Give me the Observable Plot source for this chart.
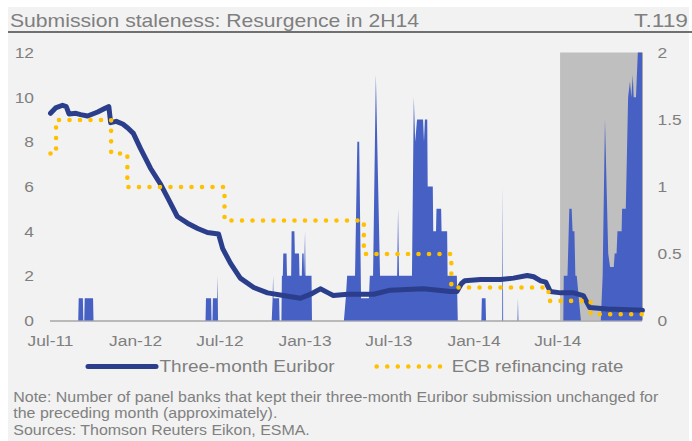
<!DOCTYPE html>
<html><head><meta charset="utf-8">
<script src="https://cdn.jsdelivr.net/npm/d3@7"></script>
<script src="https://cdn.jsdelivr.net/npm/@observablehq/plot@0.6"></script>
<style>
body{margin:0;background:#fff;}
#wrap{position:relative;width:692px;height:441px;overflow:hidden;font-family:"Liberation Sans",Arial,sans-serif;}
#overlay{position:absolute;left:0;top:0;}
#chart{position:absolute;left:0;top:40px;}
</style></head><body>
<div id="wrap"><svg id="overlay" width="692" height="441"></svg><div id="chart"></div></div>
<script>
// ---- texts ----
const titleText = "Submission staleness: Resurgence in 2H14";
const tableId = "T.119";
const legendLabels = ["Three-month Euribor", "ECB refinancing rate"];
const noteLines = [
  "Note: Number of panel banks that kept their three-month Euribor submission unchanged for",
  "the preceding month (approximately).",
  "Sources: Thomson Reuters Eikon, ESMA."
];
// ---- axes ----
const xTickLabels = ["Jul-11","Jan-12","Jul-12","Jan-13","Jul-13","Jan-14","Jul-14"];
const leftTicks = [0, 2, 4, 6, 8, 10, 12];
const rightTicks = [0, 0.5, 1, 1.5, 2];
const xStart = "2011-07-01", xEnd = "2014-12-31";
const shadeStart = "2014-07-07";
const rightToLeft = 6; // 2% on the right axis = 12 banks on the left axis

// ---- number of banks with stale submissions (left axis) ----
const staleDates = [
 "2011-07-01","2011-08-31","2011-09-01","2011-09-10","2011-09-11","2011-09-13","2011-09-14","2011-10-02","2011-10-03",
 "2012-06-01","2012-06-02","2012-06-13","2012-06-14","2012-06-16","2012-06-17","2012-06-26","2012-06-27","2012-06-28",
 "2012-10-22","2012-10-24","2012-10-25","2012-10-26","2012-11-07","2012-11-08","2012-11-12","2012-11-13","2012-11-15",
 "2012-11-16","2012-11-23","2012-11-24","2012-12-03","2012-12-04","2012-12-10","2012-12-11","2012-12-20","2012-12-21",
 "2012-12-26","2012-12-27","2012-12-30","2012-12-31","2013-01-02","2013-01-03","2013-01-16","2013-01-17",
 "2013-03-27","2013-03-31","2013-04-03","2013-04-20","2013-04-25","2013-04-29","2013-05-03","2013-05-20","2013-05-22",
 "2013-05-29","2013-06-04","2013-06-13","2013-07-20","2013-07-22","2013-07-24","2013-08-21","2013-08-25","2013-08-28",
 "2013-09-01","2013-09-14","2013-09-16","2013-09-18","2013-09-23","2013-09-24","2013-10-05","2013-10-06","2013-10-12",
 "2013-10-13","2013-10-23","2013-10-24","2013-11-05","2013-11-06","2013-11-26","2013-11-28",
 "2014-01-18","2014-01-19","2014-01-27","2014-01-28","2014-03-04","2014-03-05","2014-03-06","2014-04-06","2014-04-07","2014-04-08",
 "2014-07-14","2014-07-15","2014-07-23","2014-07-27","2014-08-01","2014-08-03","2014-08-07","2014-08-09","2014-08-12","2014-08-21",
 "2014-10-03","2014-10-07","2014-10-12","2014-10-19","2014-10-23","2014-10-31","2014-11-02","2014-11-06","2014-11-08",
 "2014-11-17","2014-11-18","2014-11-26","2014-12-01","2014-12-05","2014-12-08","2014-12-11","2014-12-13","2014-12-18",
 "2014-12-22","2014-12-31"
];
const staleCounts = [
 0,0,1,1,0,0,1,1,0,
 0,1,1,0,0,1,1,2,0,
 0,1,2,1,1,0,0,2,2,
 3,3,2,2,4,4,3,3,2,
 2,3,3,2,4,2,2,0,
 0,1,2,2,8,8,1,1,2,
 2,11,2,2,5,2,2,10,8,
 9,9,8,9,9,6,6,4,4,
 5,5,4,4,2,2,0,
 0,1,1,0,0,6,0,0,1,0,
 0,2,2,5,5,4,4,2,2,0,
 0,2,9,3,2.4,2.4,3,3,4,
 4,5,5,10,10.7,10,11,10,10,
 12,12
];

// ---- three-month Euribor, % (right axis) ----
const euriborDates = [
 "2011-07-01","2011-07-12","2011-07-27","2011-08-04","2011-08-10","2011-08-25","2011-09-04","2011-09-19","2011-10-11",
 "2011-10-28","2011-11-04","2011-11-08","2011-11-20","2011-12-04","2011-12-15","2011-12-27","2012-01-11","2012-02-02",
 "2012-02-24","2012-03-10","2012-03-31","2012-04-22","2012-05-14","2012-06-04","2012-06-28","2012-07-07","2012-07-24",
 "2012-08-14","2012-09-12","2012-10-12","2012-11-15","2012-12-22","2013-01-13","2013-02-03","2013-02-20","2013-03-03",
 "2013-04-03","2013-05-29","2013-07-04","2013-09-14","2013-11-11","2013-11-25","2013-12-05","2013-12-12","2014-01-15",
 "2014-02-27","2014-03-27","2014-04-26","2014-05-10","2014-05-25","2014-06-05","2014-06-15","2014-07-07","2014-08-04",
 "2014-08-25","2014-09-08","2014-10-16","2014-12-31"
];
const euriborRates = [
 1.55,1.59,1.61,1.60,1.545,1.55,1.54,1.53,1.56,
 1.59,1.60,1.48,1.49,1.47,1.44,1.40,1.29,1.14,
 1.02,0.92,0.78,0.73,0.69,0.66,0.65,0.54,0.43,
 0.32,0.25,0.21,0.19,0.17,0.20,0.24,0.21,0.19,
 0.20,0.20,0.23,0.24,0.22,0.22,0.28,0.30,0.31,
 0.31,0.32,0.34,0.33,0.30,0.29,0.22,0.21,0.21,
 0.19,0.10,0.09,0.08
];

// ---- ECB main refinancing rate, % (right axis) ----
const ecbDates = ["2011-07-01","2011-07-13","2011-11-09","2011-12-14","2012-07-11","2013-05-08","2013-11-13","2014-06-11","2014-09-10","2014-12-31"];
const ecbRates = [1.25, 1.50, 1.25, 1.00, 0.75, 0.50, 0.25, 0.15, 0.05, 0.05];

// ---- colours ----
const cBlue = "#4660c4", cNavy = "#2b3e8c", cGold = "#ffc000", cShade = "#bfbfbf", cText = "#7f7f7f";
const font = "'Liberation Sans', Arial, sans-serif";

const parse = d3.utcParse("%Y-%m-%d");
const tickParse = d3.utcParse("%b-%y");
const stale = staleDates.map((d, i) => ({date: parse(d), value: staleCounts[i]}));
const euribor = euriborDates.map((d, i) => ({date: parse(d), rate: euriborRates[i]}));
const ecb = ecbDates.map((d, i) => ({date: parse(d), rate: ecbRates[i]}));
const shade = [{x1: parse(shadeStart), x2: parse(xEnd), y1: 0, y2: 12}];

const plot = Plot.plot({
  width: 692, height: 311,
  marginTop: 12.5, marginBottom: 30.5, marginLeft: 50, marginRight: 50,
  style: {background: "transparent", fontFamily: font, fontSize: "15.5px", color: cText, overflow: "visible"},
  x: {type: "utc", domain: [parse(xStart), parse(xEnd)]},
  y: {domain: [0, 12]},
  marks: [
    Plot.rect(shade, {x1: "x1", x2: "x2", y1: "y1", y2: "y2", fill: cShade}),
    Plot.ruleX([parse(xEnd)], {y1: 0, y2: 12, stroke: "#a8a8a8", strokeWidth: 1}),
    Plot.ruleY([0], {stroke: "#a6a6a6", strokeWidth: 1.5}),
    Plot.areaY(stale, {x: "date", y: "value", fill: cBlue, curve: "linear"}),
    Plot.line(euribor, {x: "date", y: d => d.rate * rightToLeft, stroke: cNavy, strokeWidth: 5, curve: "linear"}),
    Plot.line(ecb, {x: "date", y: d => d.rate * rightToLeft, stroke: cGold, strokeWidth: 4.6,
      strokeDasharray: "0 10.5", strokeLinecap: "round", curve: "step-after"}),
    Plot.axisX(xTickLabels.map(tickParse), {tickSize: 0, tickPadding: 14, tickFormat: d3.utcFormat("%b-%y"), label: null}),
    Plot.axisY(leftTicks, {anchor: "left", tickSize: 0, tickPadding: 16.5, label: null}),
    Plot.axisY(rightTicks.map(v => v * rightToLeft), {anchor: "right", tickSize: 0, tickPadding: 15,
      tickFormat: v => String(+(v / rightToLeft).toFixed(2)), label: null})
  ]
});
document.getElementById("chart").append(plot);

function stretch(el, k) {
  const w = el.getComputedTextLength();
  el.setAttribute("textLength", w * k);
  el.setAttribute("lengthAdjust", "spacingAndGlyphs");
}
plot.querySelectorAll("text").forEach(t => stretch(t, 1.12));

// ---- header, legend, notes ----
const ov = d3.select("#overlay").style("font-family", font);
ov.insert("rect", ":first-child").attr("x", 8).attr("y", 7).attr("width", 681).attr("height", 434).attr("fill", "#f2f2f2");
ov.append("text").text(titleText).attr("x", 10).attr("y", 26.5).attr("font-size", 19)
  .attr("fill", cText).attr("textLength", 409).attr("lengthAdjust", "spacingAndGlyphs");
ov.append("text").text(tableId).attr("x", 688).attr("y", 26.5).attr("font-size", 19).attr("text-anchor", "end")
  .attr("fill", cText).attr("textLength", 54).attr("lengthAdjust", "spacingAndGlyphs");
ov.append("line").attr("x1", 8).attr("x2", 692).attr("y1", 32).attr("y2", 32).attr("stroke", "#707070").attr("stroke-width", 2);

// legend
ov.append("line").attr("x1", 88).attr("x2", 156).attr("y1", 366.5).attr("y2", 366.5)
  .attr("stroke", cNavy).attr("stroke-width", 5).attr("stroke-linecap", "round");
ov.append("text").text(legendLabels[0]).attr("x", 159.5).attr("y", 371.7).attr("font-size", 16.5)
  .attr("fill", cText).attr("textLength", 175).attr("lengthAdjust", "spacingAndGlyphs");
ov.append("line").attr("x1", 376.7).attr("x2", 441).attr("y1", 366.5).attr("y2", 366.5)
  .attr("stroke", cGold).attr("stroke-width", 4.6).attr("stroke-linecap", "round").attr("stroke-dasharray", "0 10.55");
ov.append("text").text(legendLabels[1]).attr("x", 451.7).attr("y", 371.7).attr("font-size", 16.5)
  .attr("fill", cText).attr("textLength", 171.6).attr("lengthAdjust", "spacingAndGlyphs");

// notes
const baselines = [401.5, 418, 434.5];
const noteEls = noteLines.map((s, i) => ov.append("text").text(s).attr("x", 13.3).attr("y", baselines[i])
  .attr("font-size", 14).attr("fill", "#808080").node());
const kNote = 645 / noteEls[0].getComputedTextLength();
noteEls.forEach(el => stretch(el, kNote));
</script>
</body></html>
